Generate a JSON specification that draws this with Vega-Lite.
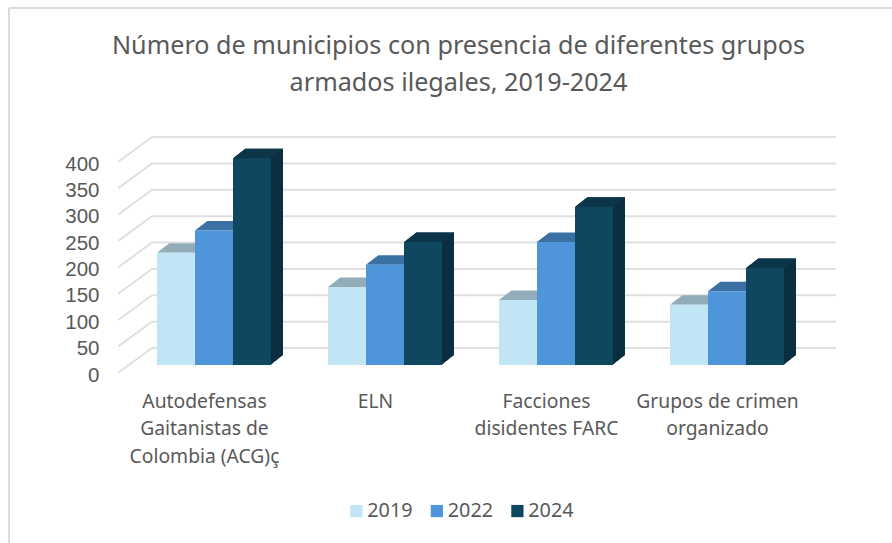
{
 "$schema":"https://vega.github.io/schema/vega-lite/v6.json",
 "autosize":"none",
 "width":684,"height":211,
 "padding":{"left":128.5,"top":154,"right":79.5,"bottom":178},
 "background":"white",
 "view":{"stroke":null},
 "title":{"text":["Número de municipios con presencia de diferentes grupos","armados ilegales, 2019-2024"],"anchor":"middle","dx":-12,"offset":-89,"fontSize":25.2,"font":"Noto Sans","fontWeight":"normal","color":"#595959","lineHeight":37},
 "data":{"values":[
  {"grupo":"Autodefensas Gaitanistas de Colombia (ACG)ç","year":"2019","municipios":213},
  {"grupo":"Autodefensas Gaitanistas de Colombia (ACG)ç","year":"2022","municipios":255},
  {"grupo":"Autodefensas Gaitanistas de Colombia (ACG)ç","year":"2024","municipios":392},
  {"grupo":"ELN","year":"2019","municipios":148},
  {"grupo":"ELN","year":"2022","municipios":190},
  {"grupo":"ELN","year":"2024","municipios":233},
  {"grupo":"Facciones disidentes FARC","year":"2019","municipios":123},
  {"grupo":"Facciones disidentes FARC","year":"2022","municipios":233},
  {"grupo":"Facciones disidentes FARC","year":"2024","municipios":300},
  {"grupo":"Grupos de crimen organizado","year":"2019","municipios":114},
  {"grupo":"Grupos de crimen organizado","year":"2022","municipios":140},
  {"grupo":"Grupos de crimen organizado","year":"2024","municipios":184}
 ]},
 "encoding":{
  "x":{"field":"grupo","type":"nominal","sort":null,"title":null,
   "scale":{"paddingInner":0.3333,"paddingOuter":0.1667},
   "axis":{"domain":false,"ticks":false,"labelAngle":0,"labelPadding":27,"labelOffset":-9.5,"labelFontSize":19.3,"labelFont":"Noto Sans","labelColor":"#595959","labelLineHeight":27.5,"labelBaseline":"top",
    "labelExpr":"datum.value=='ELN'?'ELN':datum.value[0]=='A'?['Autodefensas','Gaitanistas de','Colombia (ACG)ç']:datum.value[0]=='F'?['Facciones','disidentes FARC']:['Grupos de crimen','organizado']"}},
  "xOffset":{"field":"year","type":"nominal"},
  "y":{"field":"municipios","type":"quantitative","title":null,
   "scale":{"domain":[0,400],"nice":false},
   "axis":{"values":[0,50,100,150,200,250,300,350,400],"domain":false,"ticks":false,"grid":false,"labelPadding":29.5,"labelOffset":10,"labelFontSize":20.5,"labelFont":"Liberation Sans","labelColor":"#595959"}}
 },
 "layer":[
  {"data":{"values":[{"frame":"left"}]},
   "mark":{"type":"rule","stroke":"#dcdcdc","strokeWidth":2},
   "encoding":{"x":{"value":-119.5},"xOffset":null,"y":{"value":-146},"y2":{"value":389}}},
  {"data":{"values":[{"frame":"top"}]},
   "mark":{"type":"rule","stroke":"#dcdcdc","strokeWidth":2},
   "encoding":{"y":{"value":-146},"xOffset":null,"x":{"value":-119.5},"x2":{"value":764}}},
  {"data":{"values":[{"v":0},{"v":50},{"v":100},{"v":150},{"v":200},{"v":250},{"v":300},{"v":350},{"v":400}]},
   "mark":{"type":"point","filled":false,"shape":"M -10.2 7.7 L 23.5 -17 L 707.5 -17","size":4,"stroke":"#e0e0e0","strokeWidth":2,"opacity":1},
   "encoding":{"x":{"value":0},"xOffset":null,"y":{"field":"v","type":"quantitative"}}},
  {"transform":[{"filter":"datum.year=='2024'"}],"encoding":{"xOffset":null},
   "mark":{"type":"bar","width":38,"xOffset":39,"yOffset":-0.8,"y2Offset":-0.8,"color":"#0b2f40"}},
  {"transform":[{"filter":"datum.year=='2024'"}],"encoding":{"xOffset":null},
   "mark":{"type":"bar","width":38,"xOffset":40,"yOffset":-1.6,"y2Offset":-1.6,"color":"#0b2f40"}},
  {"transform":[{"filter":"datum.year=='2024'"}],"encoding":{"xOffset":null},
   "mark":{"type":"bar","width":38,"xOffset":41,"yOffset":-2.4,"y2Offset":-2.4,"color":"#0b2f40"}},
  {"transform":[{"filter":"datum.year=='2024'"}],"encoding":{"xOffset":null},
   "mark":{"type":"bar","width":38,"xOffset":42,"yOffset":-3.2,"y2Offset":-3.2,"color":"#0b2f40"}},
  {"transform":[{"filter":"datum.year=='2024'"}],"encoding":{"xOffset":null},
   "mark":{"type":"bar","width":38,"xOffset":43,"yOffset":-4,"y2Offset":-4,"color":"#0b2f40"}},
  {"transform":[{"filter":"datum.year=='2024'"}],"encoding":{"xOffset":null},
   "mark":{"type":"bar","width":38,"xOffset":44,"yOffset":-4.8,"y2Offset":-4.8,"color":"#0b2f40"}},
  {"transform":[{"filter":"datum.year=='2024'"}],"encoding":{"xOffset":null},
   "mark":{"type":"bar","width":38,"xOffset":45,"yOffset":-5.6,"y2Offset":-5.6,"color":"#0b2f40"}},
  {"transform":[{"filter":"datum.year=='2024'"}],"encoding":{"xOffset":null},
   "mark":{"type":"bar","width":38,"xOffset":46,"yOffset":-6.4,"y2Offset":-6.4,"color":"#0b2f40"}},
  {"transform":[{"filter":"datum.year=='2024'"}],"encoding":{"xOffset":null},
   "mark":{"type":"bar","width":38,"xOffset":47,"yOffset":-7.2,"y2Offset":-7.2,"color":"#0b2f40"}},
  {"transform":[{"filter":"datum.year=='2024'"}],"encoding":{"xOffset":null},
   "mark":{"type":"bar","width":38,"xOffset":48,"yOffset":-8,"y2Offset":-8,"color":"#0b2f40"}},
  {"transform":[{"filter":"datum.year=='2024'"}],"encoding":{"xOffset":null},
   "mark":{"type":"bar","width":38,"xOffset":49,"yOffset":-8.8,"y2Offset":-8.8,"color":"#0b2f40"}},
  {"transform":[{"filter":"datum.year=='2024'"}],"encoding":{"xOffset":null},
   "mark":{"type":"bar","width":38,"xOffset":50,"yOffset":-9.5,"y2Offset":-9.5,"color":"#0b2f40"}},
  {"mark":{"type":"point","filled":true,"opacity":1,"shape":"M -19 0 L 19 0 L 31.3 -9.5 L -6.7 -9.5 Z","size":4},
   "encoding":{"fill":{"condition":[{"test":"datum.year=='2019'","value":"#93acb9"},{"test":"datum.year=='2022'","value":"#3b70a3"}],"value":"#0b3548"}}},
  {"mark":{"type":"bar"},
   "encoding":{"color":{"field":"year","type":"nominal","title":null,
     "scale":{"domain":["2019","2022","2024"],"range":["#c1e5f5","#4e95d9","#0f4761"]},
     "legend":{"orient":"none","legendX":218,"legendY":347,"direction":"horizontal","columns":3,"symbolType":"square","symbolSize":150,"labelFontSize":19.8,"labelFont":"Noto Sans","labelColor":"#595959","columnPadding":13.5,"labelOffset":1}}}}
 ]
}
